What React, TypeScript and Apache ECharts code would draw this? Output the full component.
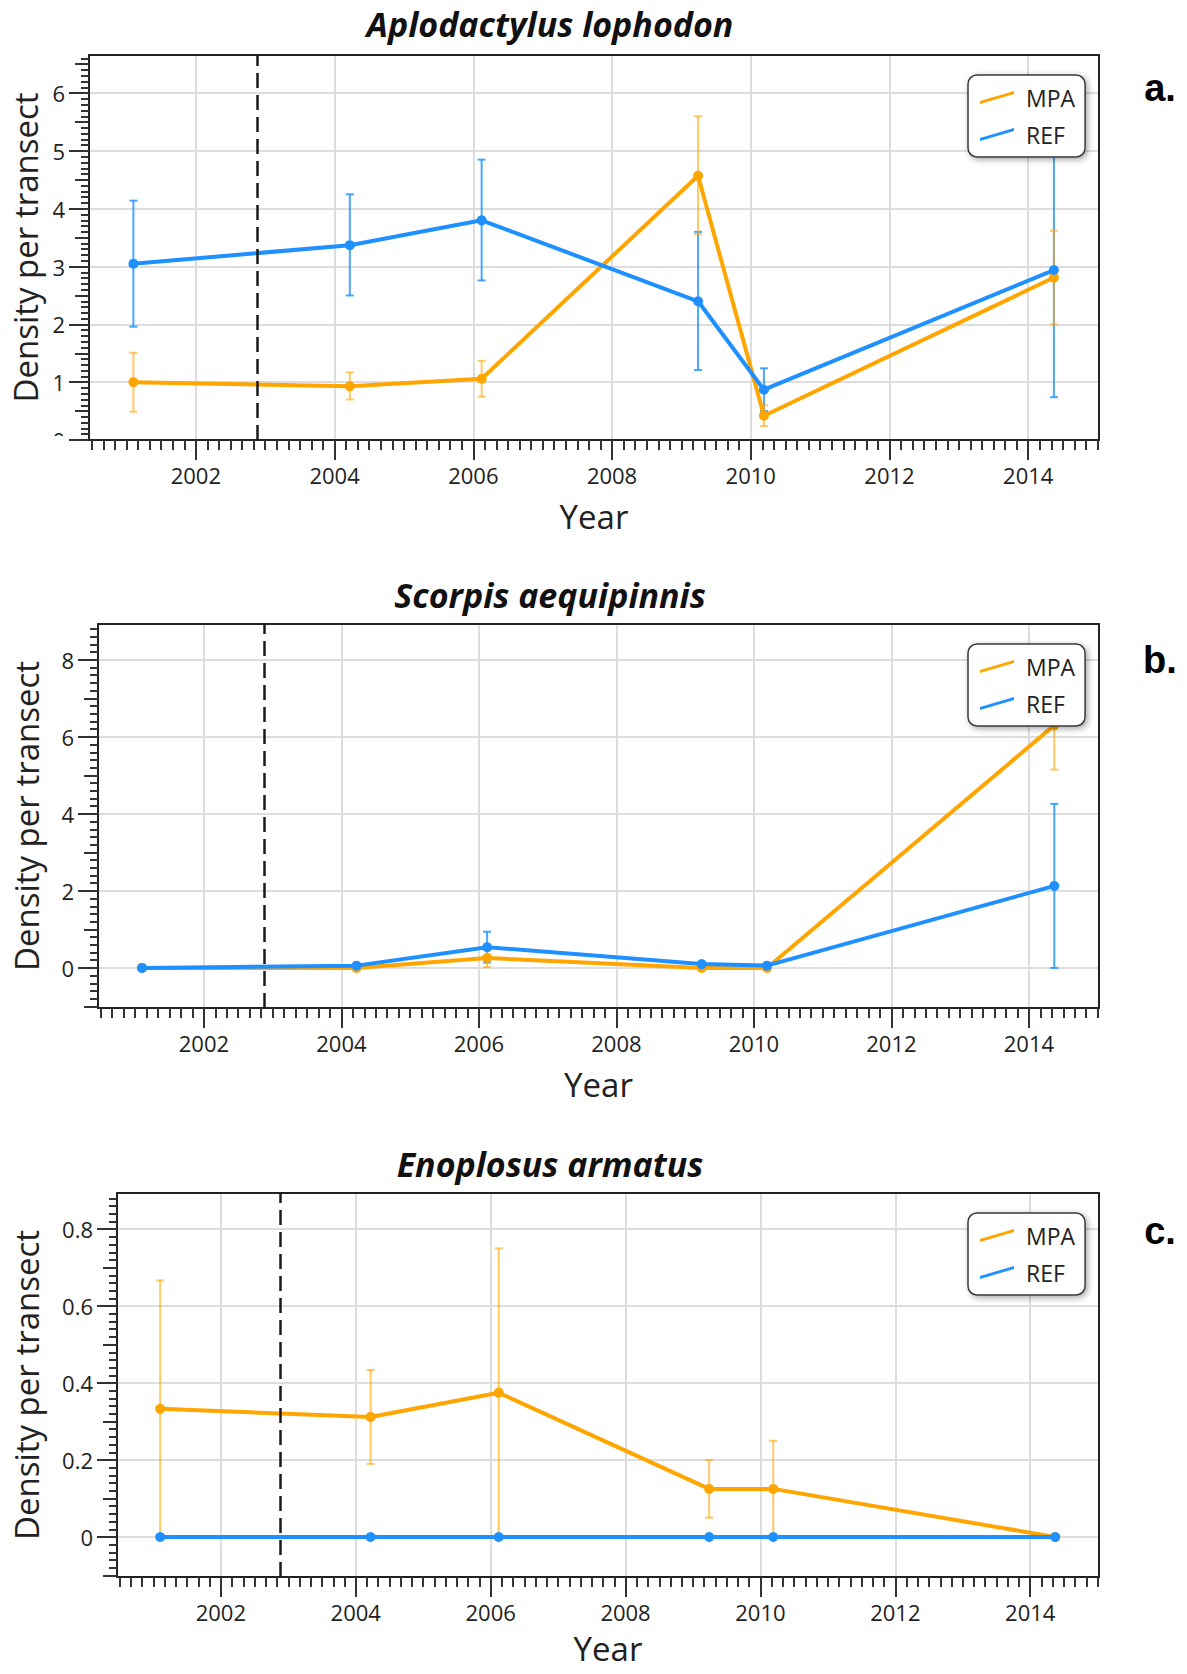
import React, { useEffect, useRef } from "react";
import * as echarts from "echarts";

// Survey dates as decimal years
const surveyYears = [2001.1, 2004.22, 2006.12, 2009.24, 2010.19, 2014.37];
// Year the reserve was declared (dashed marker)
const protectionYear = 2002.88;
const xTickYears = [2002, 2004, 2006, 2008, 2010, 2012, 2014];
const xMin = 2000.46;
const xMax = 2015.02;

// Aplodactylus lophodon — mean density and error-bar ends
const aploMpaMean = [1.0, 0.93, 1.06, 4.57, 0.42, 2.81];
const aploMpaLow = [0.49, 0.7, 0.75, 3.56, 0.24, 2.0];
const aploMpaHigh = [1.51, 1.17, 1.37, 5.6, 0.6, 3.62];
const aploRefMean = [3.05, 3.37, 3.8, 2.4, 0.87, 2.94];
const aploRefLow = [1.96, 2.5, 2.76, 1.21, 0.5, 0.74];
const aploRefHigh = [4.14, 4.25, 4.85, 3.6, 1.24, 5.14];
const aploYTicks = [0, 1, 2, 3, 4, 5, 6];
const aploYHalfTicks = [0.5, 1.5, 2.5, 3.5, 4.5, 5.5, 6.5];

// Scorpis aequipinnis
const scorMpaMean = [0, 0, 0.26, 0, 0, 6.3];
const scorMpaLow = [0, 0, 0.02, 0, 0, 5.15];
const scorMpaHigh = [0, 0, 0.5, 0, 0, 7.45];
const scorRefMean = [0, 0.06, 0.54, 0.1, 0.06, 2.13];
const scorRefLow = [0, 0.06, 0.14, 0.1, 0.06, 0.0];
const scorRefHigh = [0, 0.06, 0.94, 0.1, 0.06, 4.26];
const scorYTicks = [0, 2, 4, 6, 8];
const scorYHalfTicks = [-1, 1, 3, 5, 7];

// Enoplosus armatus
const enopMpaMean = [0.333, 0.312, 0.375, 0.125, 0.125, 0];
const enopMpaLow = [0, 0.19, 0, 0.05, 0, 0];
const enopMpaHigh = [0.667, 0.434, 0.75, 0.2, 0.25, 0];
const enopRefMean = [0, 0, 0, 0, 0, 0];
const enopRefLow = [0, 0, 0, 0, 0, 0];
const enopRefHigh = [0, 0, 0, 0, 0, 0];
const enopYTicks = [0, 0.2, 0.4, 0.6, 0.8];
const enopYHalfTicks = [-0.1, 0.1, 0.3, 0.5, 0.7];

const panels = [
  {
    title: "Aplodactylus lophodon",
    letter: "a.",
    mpa: { mean: aploMpaMean, low: aploMpaLow, high: aploMpaHigh },
    ref: { mean: aploRefMean, low: aploRefLow, high: aploRefHigh },
    yMin: 0,
    yMax: 6.66,
    yStep: 1,
    yTicks: aploYTicks,
    yHalfTicks: aploYHalfTicks,
  },
  {
    title: "Scorpis aequipinnis",
    letter: "b.",
    mpa: { mean: scorMpaMean, low: scorMpaLow, high: scorMpaHigh },
    ref: { mean: scorRefMean, low: scorRefLow, high: scorRefHigh },
    yMin: -1.04,
    yMax: 8.93,
    yStep: 2,
    yTicks: scorYTicks,
    yHalfTicks: scorYHalfTicks,
  },
  {
    title: "Enoplosus armatus",
    letter: "c.",
    mpa: { mean: enopMpaMean, low: enopMpaLow, high: enopMpaHigh },
    ref: { mean: enopRefMean, low: enopRefLow, high: enopRefHigh },
    yMin: -0.104,
    yMax: 0.894,
    yStep: 0.2,
    yTicks: enopYTicks,
    yHalfTicks: enopYHalfTicks,
  },
];

// Layout (pixels)
const gridRects = [
  { left: 89, top: 55, width: 1010, height: 385 },
  { left: 98, top: 624, width: 1001, height: 384 },
  { left: 117, top: 1193, width: 982, height: 384 },
];
const yNameGaps = [46, 55, 74];
const xNameGaps = [60, 60, 55];
const titleYs = [24, 595, 1164];
const letterYs = [88, 660, 1231];

const FONT = '"Open Sans", "Noto Sans", sans-serif';
const ORANGE = "#FFA500";
const BLUE = "#1E90FF";
const ORANGE_ERR = "rgba(255,165,0,0.6)";
const BLUE_ERR = "rgba(30,144,255,0.8)";
const FRAME = "#222";
const TICK = "#333";
const GRIDLINE = "#dddddd";

function errorBarSeries(name: string, i: number, low: number[], high: number[], color: string) {
  return {
    type: "custom",
    name,
    xAxisIndex: 2 * i,
    yAxisIndex: 3 * i,
    z: 2,
    silent: true,
    clip: true,
    encode: { x: 0, y: [1, 2] },
    data: surveyYears.map((x, k) => [x, low[k], high[k]]),
    renderItem: (_params: any, api: any) => {
      const x = api.value(0);
      const lo = api.value(1);
      const hi = api.value(2);
      if (hi - lo <= 0) return null;
      const top = api.coord([x, hi]);
      const bot = api.coord([x, lo]);
      const hw = 4;
      const style = { stroke: color, lineWidth: 2, fill: "none" };
      return {
        type: "group",
        children: [
          { type: "line", shape: { x1: top[0], y1: top[1], x2: bot[0], y2: bot[1] }, style },
          { type: "line", shape: { x1: top[0] - hw, y1: top[1], x2: top[0] + hw, y2: top[1] }, style },
          { type: "line", shape: { x1: bot[0] - hw, y1: bot[1], x2: bot[0] + hw, y2: bot[1] }, style },
        ],
      };
    },
  };
}

function lineSeries(name: string, i: number, mean: number[], color: string, withMarker: boolean) {
  const s: any = {
    type: "line",
    name,
    xAxisIndex: 2 * i,
    yAxisIndex: 3 * i,
    z: name === "REF" ? 4 : 3,
    data: surveyYears.map((x, k) => [x, mean[k]]),
    symbol: "circle",
    symbolSize: 10,
    showSymbol: true,
    lineStyle: { color, width: 4 },
    itemStyle: { color },
    emphasis: { disabled: true },
  };
  if (withMarker) {
    s.markLine = {
      silent: true,
      symbol: ["none", "none"],
      label: { show: false },
      lineStyle: { color: "#1a1a1a", type: [15, 7], width: 2.5 },
      data: [{ xAxis: protectionYear }],
    };
  }
  return s;
}

function buildOption() {
  const frameLine = { show: true, onZero: false, lineStyle: { color: FRAME, width: 2 } };
  const tickLine = { color: TICK, width: 2 };
  const xAxis: any[] = [];
  const yAxis: any[] = [];
  const series: any[] = [];
  const legend: any[] = [];

  panels.forEach((p, i) => {
    xAxis.push({
      type: "value",
      gridIndex: i,
      position: "bottom",
      min: xMin,
      max: xMax,
      splitNumber: 7,
      minInterval: 2,
      maxInterval: 2,
      axisLine: frameLine,
      axisTick: {
        show: true,
        inside: false,
        length: 20,
        customValues: xTickYears,
        lineStyle: tickLine,
      },
      minorTick: { show: true, splitNumber: 12, length: 10, lineStyle: tickLine },
      axisLabel: {
        customValues: xTickYears,
        fontSize: 22,
        color: "#222",
        fontFamily: FONT,
        margin: 24,
        formatter: (v: number) => String(v),
      },
      splitLine: { show: true, lineStyle: { color: GRIDLINE, width: 2 } },
      name: "Year",
      nameLocation: "middle",
      nameGap: xNameGaps[i],
      nameTextStyle: { fontSize: 33, color: "#222", fontFamily: FONT },
    });
    xAxis.push({
      type: "value",
      gridIndex: i,
      position: "top",
      min: 0,
      max: 1,
      axisLine: frameLine,
      axisTick: { show: false },
      axisLabel: { show: false },
      splitLine: { show: false },
    });

    yAxis.push({
      type: "value",
      gridIndex: i,
      position: "left",
      min: p.yMin,
      max: p.yMax,
      minInterval: p.yStep,
      maxInterval: p.yStep,
      axisLine: frameLine,
      axisTick: {
        show: true,
        inside: false,
        length: 20,
        customValues: p.yTicks,
        lineStyle: tickLine,
      },
      minorTick: { show: true, splitNumber: 10, length: 8, lineStyle: tickLine },
      axisLabel: {
        customValues: p.yTicks,
        fontSize: 22,
        color: "#222",
        fontFamily: FONT,
        margin: 24,
        formatter: (v: number) => String(v),
      },
      splitLine: { show: true, lineStyle: { color: GRIDLINE, width: 2 } },
      name: "Density per transect",
      nameLocation: "middle",
      nameGap: yNameGaps[i],
      nameTextStyle: { fontSize: 33, color: "#222", fontFamily: FONT },
    });
    // half-step ticks of medium length
    yAxis.push({
      type: "value",
      gridIndex: i,
      position: "left",
      min: p.yMin,
      max: p.yMax,
      axisLine: { show: false, onZero: false },
      axisTick: {
        show: true,
        inside: false,
        length: 14,
        customValues: p.yHalfTicks,
        lineStyle: tickLine,
      },
      minorTick: { show: false },
      axisLabel: { show: false },
      splitLine: { show: false },
    });
    yAxis.push({
      type: "value",
      gridIndex: i,
      position: "right",
      min: 0,
      max: 1,
      axisLine: frameLine,
      axisTick: { show: false },
      axisLabel: { show: false },
      splitLine: { show: false },
    });

    series.push(errorBarSeries("REF error", i, p.ref.low, p.ref.high, BLUE_ERR));
    series.push(errorBarSeries("MPA error", i, p.mpa.low, p.mpa.high, ORANGE_ERR));
    series.push(lineSeries("MPA", i, p.mpa.mean, ORANGE, true));
    series.push(lineSeries("REF", i, p.ref.mean, BLUE, false));

    legend.push({
      data: ["MPA", "REF"],
      orient: "vertical",
      left: 968,
      top: gridRects[i].top + 20,
      selectedMode: false,
      backgroundColor: "#ffffff",
      borderColor: "#3a3a3a",
      borderWidth: 1.5,
      borderRadius: 9,
      shadowBlur: 6,
      shadowColor: "rgba(0,0,0,0.35)",
      shadowOffsetX: 2,
      shadowOffsetY: 2,
      padding: [11, 10, 11, 12],
      itemGap: 14,
      itemWidth: 34,
      itemHeight: 13,
      icon: "path://M0,10 L34,0 L34,3 L0,13 Z",
      textStyle: { fontSize: 23, color: "#222", fontFamily: FONT, padding: [0, 0, 0, 7] },
      z: 10,
    });
  });

  const graphic: any[] = [];
  panels.forEach((p, i) => {
    graphic.push({
      type: "text",
      x: 550,
      y: titleYs[i],
      style: {
        text: p.title,
        fontSize: 34,
        fontWeight: "bold",
        fontStyle: "italic",
        fontFamily: FONT,
        fill: "#111",
        align: "center",
        verticalAlign: "middle",
      },
    });
    graphic.push({
      type: "text",
      x: 1160,
      y: letterYs[i],
      style: {
        text: p.letter,
        fontSize: 38,
        fontWeight: "bold",
        fontFamily: '"Liberation Sans", Arial, sans-serif',
        fill: "#000",
        align: "center",
        verticalAlign: "middle",
      },
    });
  });
  // the lowest label of the first panel sits below the frame and is clipped
  graphic.push({
    type: "rect",
    z: 100,
    shape: { x: 46, y: gridRects[0].top + gridRects[0].height - 4, width: 22, height: 22 },
    style: { fill: "#ffffff" },
  });

  return {
    animation: false,
    backgroundColor: "#ffffff",
    grid: gridRects.map((r) => ({ ...r, show: false, containLabel: false })),
    xAxis,
    yAxis,
    series,
    legend,
    graphic,
  };
}

export default function App() {
  const ref = useRef<HTMLDivElement>(null);
  useEffect(() => {
    document.body.style.margin = "0";
    if (!ref.current) return;
    const chart = echarts.init(ref.current, undefined, { renderer: "svg" });
    chart.setOption(buildOption() as any);
    return () => chart.dispose();
  }, []);
  return <div ref={ref} style={{ width: 1187, height: 1674 }} />;
}
